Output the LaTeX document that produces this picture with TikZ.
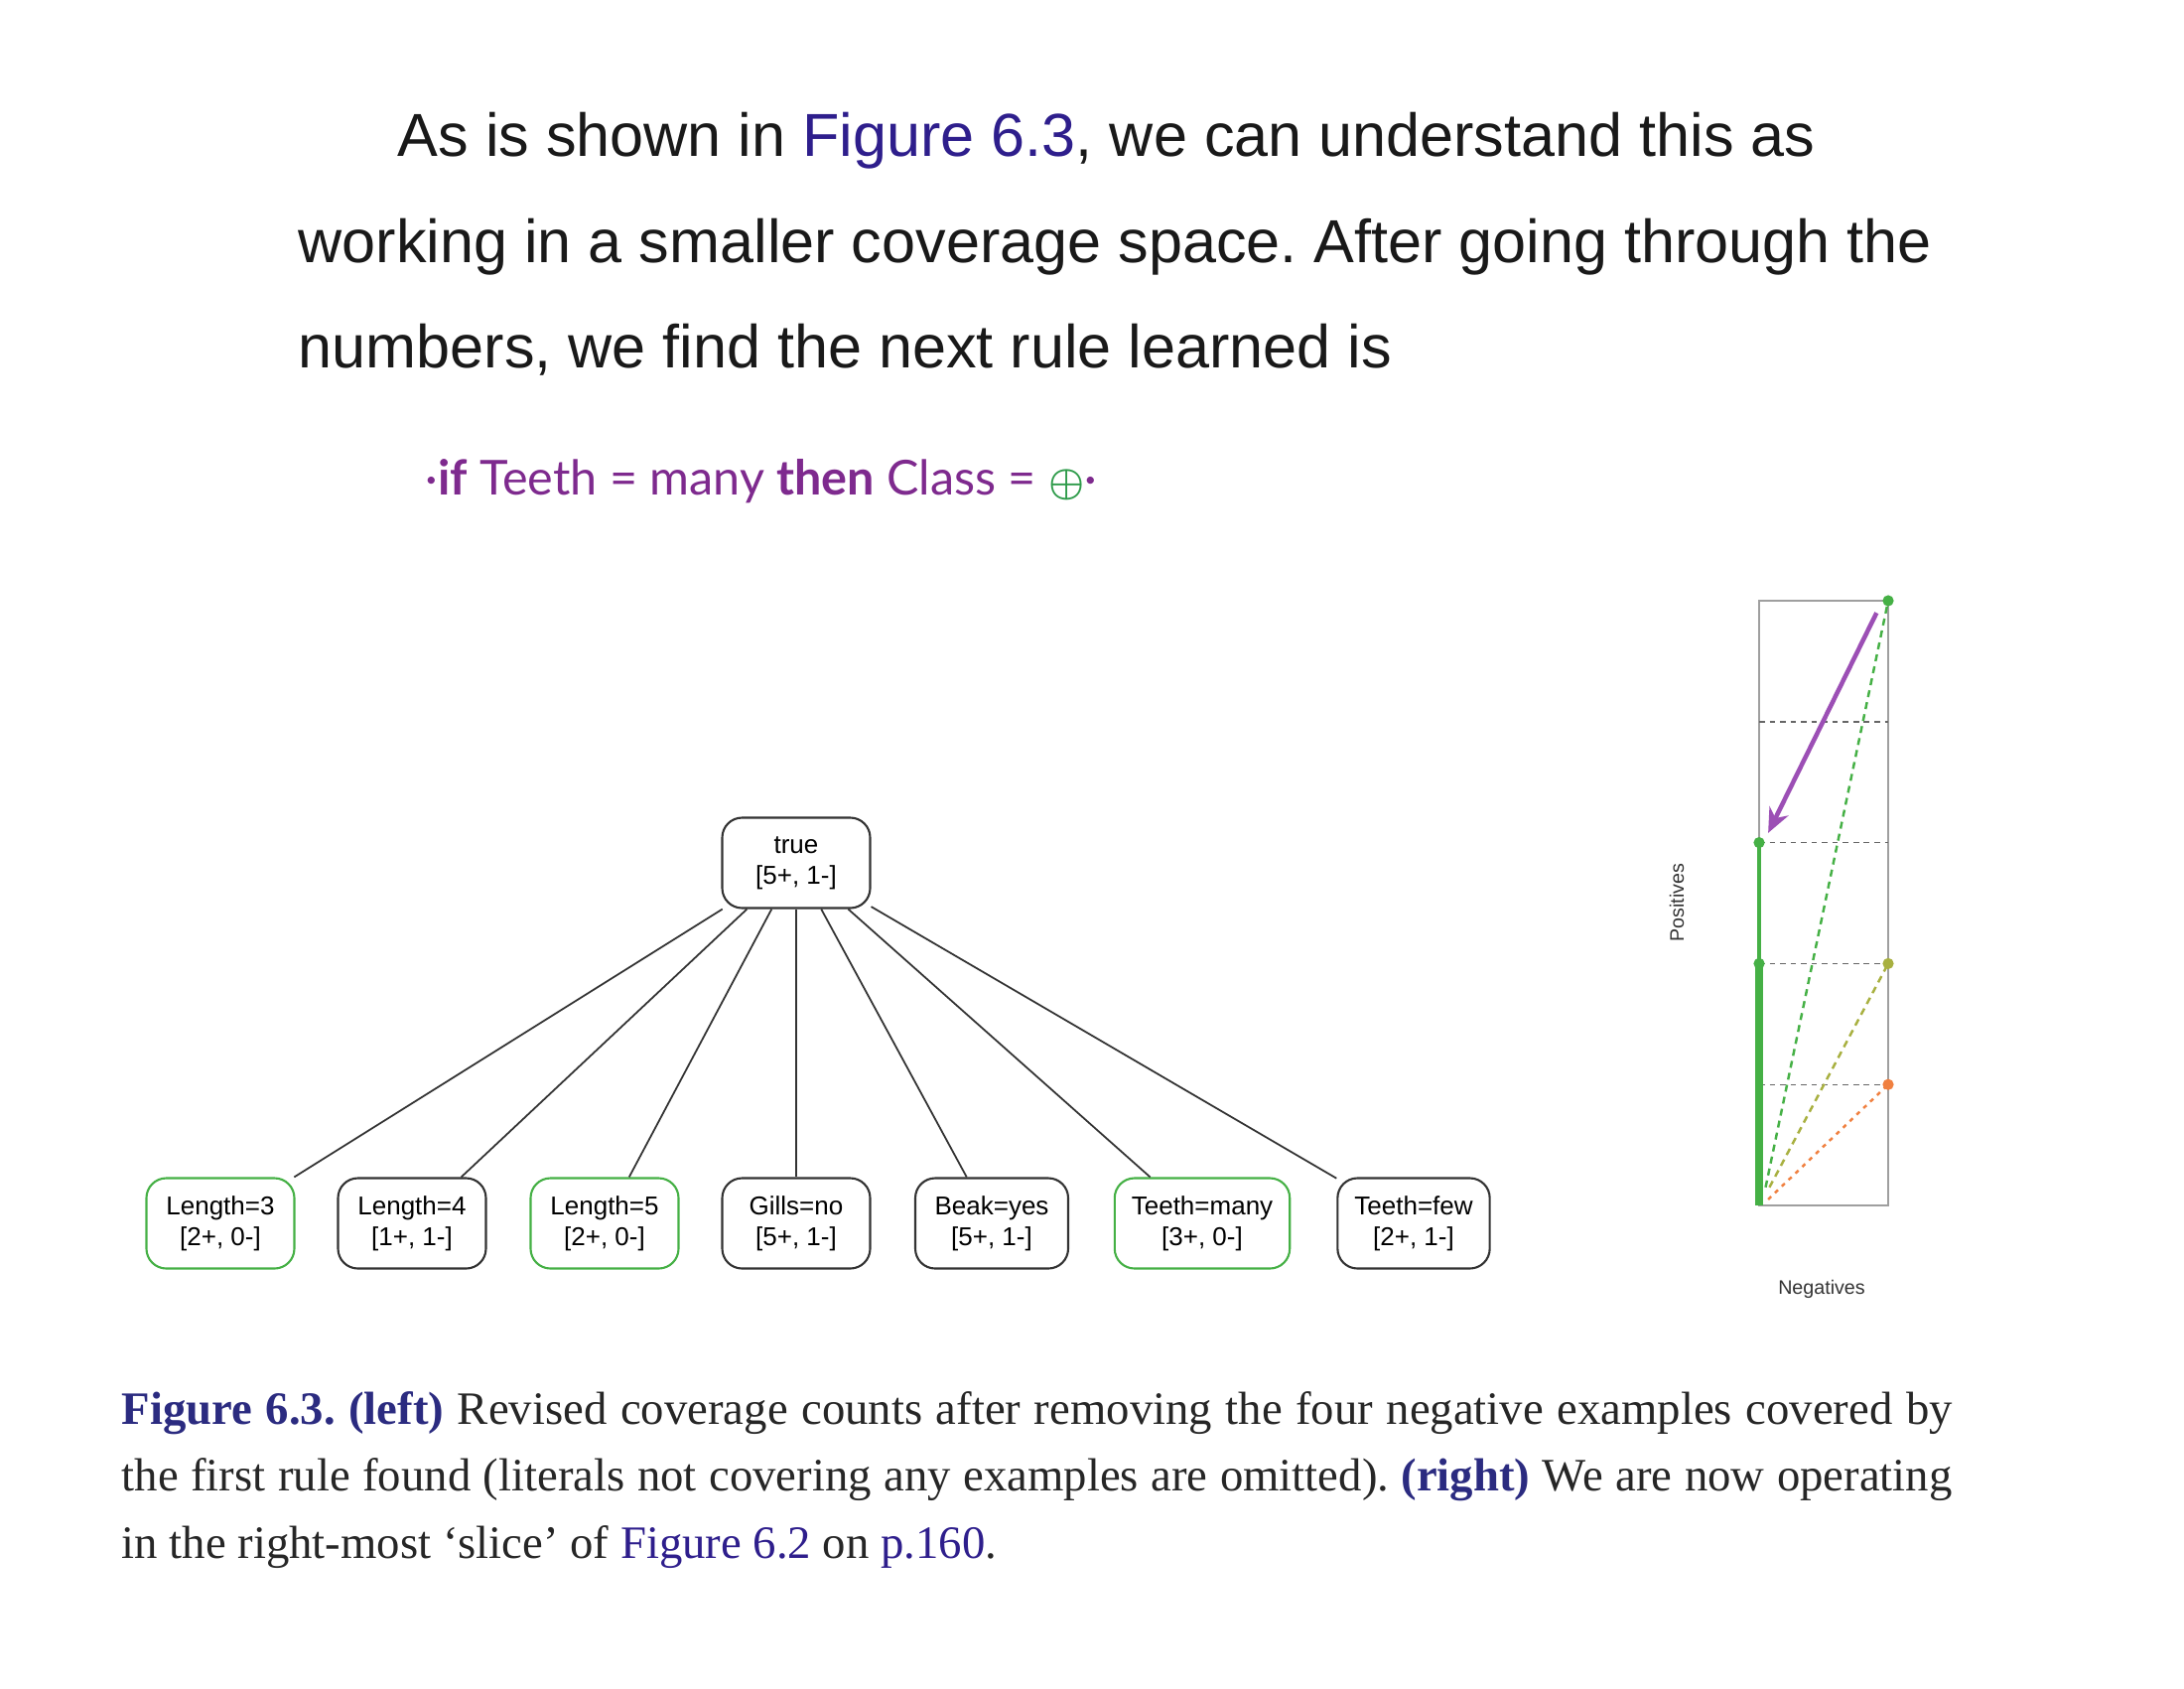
\documentclass[tikz,border=0pt]{standalone}
\usepackage{amsmath,amssymb}
\usepackage{fontspec}
\setmainfont{Liberation Serif}
\setsansfont{Liberation Sans}
\newfontfamily\rulefont{Lato}
\usepackage{xcolor}
\usetikzlibrary{arrows.meta,positioning,calc}
\frenchspacing

\definecolor{linkblue}{HTML}{2E1E8C}
\definecolor{capblue}{HTML}{2B2B80}
\definecolor{rulepurple}{HTML}{7E2A8E}
\definecolor{plusgreen}{HTML}{2E9B4A}
\definecolor{covgreen}{HTML}{45B045}
\definecolor{covolive}{HTML}{A8B040}
\definecolor{covorange}{HTML}{F08040}
\definecolor{arrowpurple}{HTML}{9C4FB5}

\begin{document}
\begin{tikzpicture}[
  lit/.style={draw=black!80, rounded corners=0.2cm, minimum width=1.49cm, minimum height=0.91cm,
    align=center, inner xsep=0.17cm, line width=0.6pt, font=\sffamily\fontsize{7.4}{8.8}\selectfont},
  best/.style={lit, draw=covgreen},
  body/.style={anchor=base west, inner sep=0pt, text=black!90, font=\sffamily\fontsize{17.4}{20}\selectfont},
  captext/.style={anchor=base west, inner sep=0pt, text=black!85, font=\fontsize{13.3}{15}\selectfont},
  axislbl/.style={text=black!80, font=\sffamily\fontsize{5.6}{6}\selectfont},
  gridline/.style={gray!80!black, dash pattern=on 1.6pt off 1.4pt, line width=0.4pt},
  covdot/.style={circle, fill=#1, inner sep=0pt, minimum size=3.2pt}
]
\useasboundingbox (0,0) rectangle (22,-17);

% running text above the figure
\node[body] (par1) at (4.00,-1.57) {As is shown in \textcolor{linkblue}{Figure 6.3}, we can understand this as};
\node[body] (par2) at (3.00,-2.64) {working in a smaller coverage space. After going through the};
\node[body] (par3) at (3.00,-3.70) {numbers, we find the next rule learned is};
\node[anchor=base west, inner sep=0pt, text=rulepurple, font=\rulefont\fontsize{13.8}{16}\selectfont] (rule) at (4.28,-4.98)
  {·\textbf{if} Teeth = many \textbf{then} Class = \textcolor{plusgreen}{\scalebox{0.8}{$\boldsymbol{\oplus}$}}·};

% literals and their coverage counts
\node[lit] (top) at (8.02,-8.69) {true\\{}[5+, 1-]};
\node[best] (len3) at (2.22,-12.32) {Length=3\\{}[2+, 0-]};
\node[lit] (len4) at (4.15,-12.32) {Length=4\\{}[1+, 1-]};
\node[best] (len5) at (6.09,-12.32) {Length=5\\{}[2+, 0-]};
\node[lit] (gills) at (8.02,-12.32) {Gills=no\\{}[5+, 1-]};
\node[lit, minimum width=1.54cm] (beak) at (9.99,-12.32) {Beak=yes\\{}[5+, 1-]};
\node[best, minimum width=1.74cm] (many) at (12.11,-12.32) {Teeth=many\\{}[3+, 0-]};
\node[lit, minimum width=1.52cm] (few) at (14.24,-12.32) {Teeth=few\\{}[2+, 1-]};

\foreach \c in {len3,len4,len5,gills,beak,many,few}
  \draw[black!80, line width=0.5pt] (top) -- (\c);

% coverage space, right-most slice
\begin{scope}[shift={(17.72,-12.14)}, x=1.30cm, y=1.218cm]
  \draw[gray!75, line width=0.8pt] (0,0) rectangle (1,5);
  \foreach \r in {1,...,4}
    \draw[gridline] (0,\r) -- (1,\r);
  \draw[covgreen, dash pattern=on 2pt off 1.5pt, line width=0.7pt] (0.05,0.15) -- (1,5);
  \draw[covolive, dash pattern=on 2pt off 1.5pt, line width=0.7pt] (0.08,0.15) -- (1,2);
  \draw[covorange, dash pattern=on 1.2pt off 1.5pt, line width=0.7pt] (0.07,0.05) -- (1,1);
  \draw[covgreen, line width=1.1pt] (0,0) -- (0,3);
  \draw[covgreen, line width=2.2pt] (0,0) -- (0,2);
  \node[covdot=covgreen] (p3) at (0,3) {};
  \node[covdot=covgreen] (p2) at (0,2) {};
  \node[covdot=covgreen] (p5) at (1,5) {};
  \node[covdot=covolive] (q2) at (1,2) {};
  \node[covdot=covorange] (q1) at (1,1) {};
  \coordinate (from) at (0.91,4.90);
  \coordinate (to) at (0.07,3.08);
  \draw[arrowpurple, line width=1.3pt, -{Stealth[length=7pt,width=6pt]}] (from) -- (to);
\end{scope}
\node[axislbl, rotate=90] (poslbl) at (16.89,-9.09) {Positives};
\node[axislbl] (neglbl) at (18.35,-12.98) {Negatives};

% caption
\node[captext] (cap1) at (1.22,-14.34) {\makebox[18.44cm][s]{\textcolor{capblue}{\textbf{Figure 6.3.}} \textcolor{capblue}{\textbf{(left)}} Revised coverage counts after removing the four negative examples covered by}};
\node[captext] (cap2) at (1.22,-15.01) {\makebox[18.44cm][s]{the first rule found (literals not covering any examples are omitted). \textcolor{capblue}{\textbf{(right)}} We are now operating}};
\node[captext] (cap3) at (1.22,-15.69) {in the right-most ‘slice’ of \textcolor{linkblue}{Figure 6.2} on \textcolor{linkblue}{p.160}.};
\end{tikzpicture}
\end{document}
